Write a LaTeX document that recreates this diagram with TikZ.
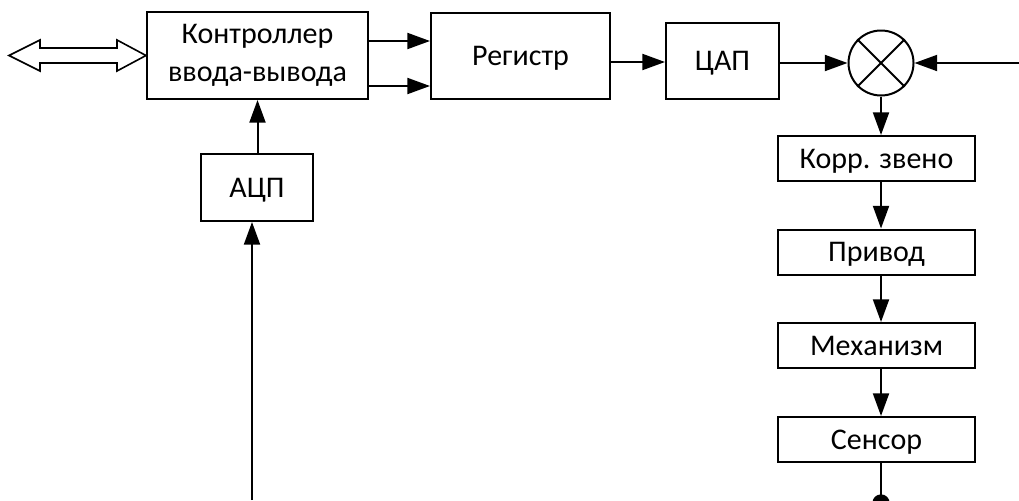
\documentclass[tikz,border=0pt]{standalone}
\usepackage{fontspec}
\setmainfont{Carlito}
\usetikzlibrary{arrows.meta,calc}

\begin{document}
\begin{tikzpicture}[x=0.75pt,y=-0.75pt,
  line width=1.5pt,
  every node/.style={font=\fontsize{22.5}{28}\selectfont},
  blk/.style={draw,rectangle,inner sep=0pt,text height=14.5pt,text depth=0pt},
  arr/.style={-{Triangle[length=17pt,width=12pt]}},
  sumnode/.style={draw,circle,inner sep=0pt,minimum size=48.75pt}
]
\useasboundingbox (0,0) rectangle (1019,500);

% main chain
\node[draw,rectangle,inner sep=0pt,align=center,minimum width=165.75pt,minimum height=65.25pt] (ctl) at (257.5,55.5) {Контроллер\\ввода-вывода};
\node[blk,minimum width=134.25pt,minimum height=64.5pt] (reg) at (520.5,56) {Регистр};
\node[blk,minimum width=84.75pt,minimum height=57pt] (dac) at (722.5,61) {ЦАП};
\node[sumnode] (sum) at (881,63) {};
\draw (sum.45) -- (sum.225);
\draw (sum.135) -- (sum.315);

% feedback converter
\node[blk,minimum width=84pt,minimum height=50.25pt] (adc) at (257,187.5) {АЦП};

% actuator column
\node[blk,minimum width=147.75pt,minimum height=33.75pt] (kor) at (876.5,158.5) {Корр. звено};
\node[blk,minimum width=147.75pt,minimum height=33.75pt] (drv) at (876.5,252) {Привод};
\node[blk,minimum width=147.75pt,minimum height=33.75pt] (mech) at (876.5,345.5) {Механизм};
\node[blk,minimum width=147.75pt,minimum height=33.75pt] (sns) at (876.5,439.5) {Сенсор};

% free ends
\coordinate (bus) at (9,55.5);
\coordinate (ref) at (1019,63);
\coordinate (fb) at (252,500);
\coordinate (snsout) at (881,503);

% bidirectional bus arrow
\draw[line width=1.2pt,line join=miter] (bus) -- ++(31,-15.5) -- ++(0,8)
  -- ($(ctl.west)+(-29,-7.5)$) -- ++(0,-8) -- (ctl.west) -- ++(-29,15.5)
  -- ++(0,-8) -- ($(bus)+(31,7.5)$) -- ++(0,8) -- cycle;

% signal connectors
\draw[arr] (ctl.east |- {(0,41)}) -- (reg.west |- {(0,41)});
\draw[arr] (ctl.east |- {(0,86)}) -- (reg.west |- {(0,86)});
\draw[arr] (reg.east |- {(0,62)}) -- (dac.west |- {(0,62)});
\draw[arr] (dac.east |- sum) -- (sum.west);
\draw[arr] (ref) -- (sum.east);
\draw[arr] (sum.south) -- (kor.north -| sum);
\draw[arr] (kor.south -| sum) -- (drv.north -| sum);
\draw[arr] (drv.south -| sum) -- (mech.north -| sum);
\draw[arr] (mech.south -| sum) -- (sns.north -| sum);
\draw (sns.south -| sum) -- (snsout);
\fill (snsout) circle (6.5pt);
\draw[arr] (adc.north -| ctl) -- (ctl.south);
\draw[arr] (fb) -- (fb |- adc.south);
\end{tikzpicture}
\end{document}
